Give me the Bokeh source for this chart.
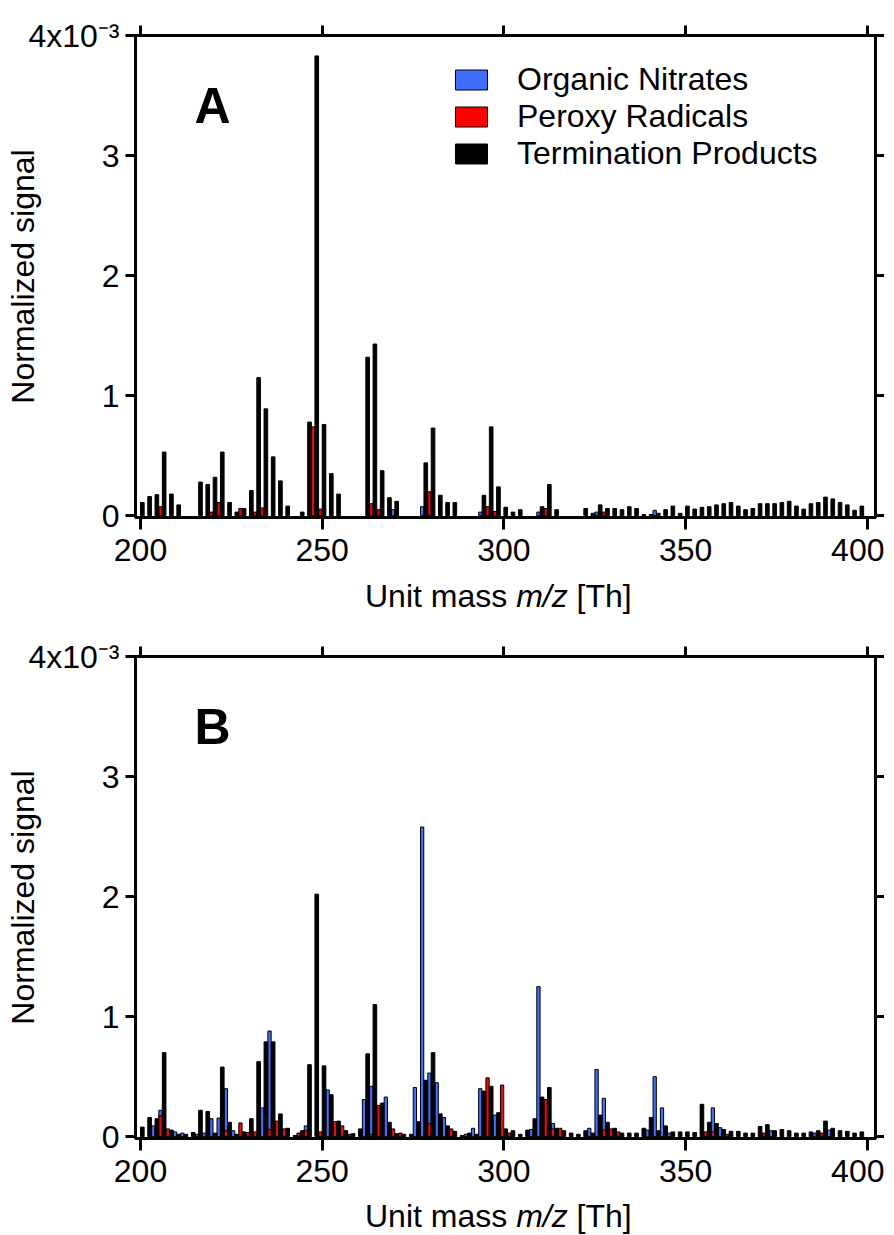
import math
from bokeh.plotting import figure
from bokeh.models import ColumnDataSource, FixedTicker, LinearAxis, Label, Range1d, Div
from bokeh.transform import dodge
from bokeh.layouts import column
from bokeh.embed import file_html
from bokeh.resources import INLINE

# ---------------- data (signal in units of 1e-3) ----------------
# Termination products at even unit masses 200, 202, ..., 398
TERM_MZ = list(range(200, 400, 2))

A_TERM = [0.11, 0.16, 0.175, 0.53, 0.18, 0.09, 0.0, 0.0, 0.28, 0.26,
          0.32, 0.53, 0.11, 0.03, 0.06, 0.21, 1.15, 0.89, 0.49, 0.29,
          0.08, 0.0, 0.03, 0.78, 3.83, 0.76, 0.35, 0.18, 0.0, 0.0,
          0.0, 1.32, 1.43, 0.375, 0.15, 0.12, 0.0, 0.0, 0.0, 0.44,
          0.73, 0.17, 0.11, 0.11, 0.0, 0.0, 0.0, 0.17, 0.74, 0.24,
          0.07, 0.03, 0.05, 0.0, 0.0, 0.075, 0.26, 0.05, 0.0, 0.0,
          0.0, 0.06, 0.02, 0.09, 0.06, 0.06, 0.05, 0.075, 0.06, 0.01,
          0.01, 0.02, 0.05, 0.08, 0.02, 0.08, 0.055, 0.07, 0.075, 0.09,
          0.10, 0.11, 0.08, 0.05, 0.06, 0.10, 0.10, 0.10, 0.11, 0.12,
          0.08, 0.055, 0.10, 0.11, 0.155, 0.14, 0.11, 0.09, 0.045, 0.08]

A_NIT_MZ = [269, 277, 293, 309, 325, 341]
A_NIT = [0.05, 0.075, 0.03, 0.03, 0.03, 0.045]

A_PER_MZ = [205, 219, 221, 227, 231, 233, 247, 249, 263, 265, 279, 295, 297, 311, 327]
A_PER = [0.075, 0.03, 0.11, 0.06, 0.03, 0.065, 0.74, 0.055, 0.10, 0.05, 0.20,
         0.075, 0.035, 0.06, 0.03]

B_TERM = [0.08, 0.16, 0.15, 0.70, 0.055, 0.02, 0.02, 0.035, 0.22, 0.21,
          0.03, 0.58, 0.12, 0.02, 0.04, 0.15, 0.625, 0.79, 0.79, 0.19,
          0.07, 0.01, 0.05, 0.60, 2.02, 0.59, 0.35, 0.13, 0.05, 0.025,
          0.065, 0.69, 1.10, 0.28, 0.12, 0.025, 0.02, 0.02, 0.125, 0.47,
          0.70, 0.19, 0.09, 0.045, 0.01, 0.03, 0.02, 0.38, 0.42, 0.20,
          0.065, 0.05, 0.02, 0.055, 0.15, 0.33, 0.41, 0.07, 0.05, 0.03,
          0.02, 0.05, 0.03, 0.18, 0.12, 0.07, 0.03, 0.03, 0.03, 0.07,
          0.16, 0.05, 0.09, 0.04, 0.04, 0.04, 0.035, 0.27, 0.12, 0.11,
          0.06, 0.045, 0.045, 0.03, 0.03, 0.085, 0.10, 0.05, 0.06, 0.05,
          0.03, 0.03, 0.04, 0.05, 0.13, 0.07, 0.05, 0.045, 0.03, 0.04]

B_NIT_MZ = [203, 205, 209, 211, 217, 219, 221, 223, 225, 233, 235, 245, 251,
            261, 263, 267, 275, 277, 279, 281, 283, 289, 291, 293, 297, 307,
            309, 313, 323, 325, 327, 339, 341, 343, 345, 357, 359, 373, 385, 389]
B_NIT = [0.09, 0.22, 0.04, 0.03, 0.03, 0.15, 0.155, 0.40, 0.05, 0.24, 0.88, 0.09, 0.39,
         0.31, 0.42, 0.33, 0.41, 2.58, 0.53, 0.45, 0.16, 0.02, 0.07, 0.40, 0.18, 0.06,
         1.25, 0.11, 0.07, 0.56, 0.32, 0.055, 0.50, 0.24, 0.03, 0.24, 0.075, 0.05, 0.03, 0.055]

B_PER_MZ = [205, 207, 215, 223, 227, 229, 231, 235, 237, 239, 243, 245, 249, 253,
            255, 257, 263, 265, 269, 271, 279, 285, 295, 299, 301, 311, 313, 315,
            327, 329, 331, 355, 357, 361, 371, 387]
B_PER = [0.175, 0.065, 0.02, 0.05, 0.115, 0.035, 0.04, 0.06, 0.13, 0.065, 0.03, 0.05,
         0.04, 0.125, 0.09, 0.02, 0.02, 0.26, 0.065, 0.03, 0.11, 0.065, 0.49, 0.43,
         0.03, 0.31, 0.065, 0.07, 0.055, 0.065, 0.04, 0.04, 0.04, 0.02, 0.03, 0.03]

X_TICKS = [200, 250, 300, 350, 400]
Y_TICKS = [0, 1, 2, 3, 4]
Y_TOP_LABEL = "4x10\u207b\u00b3"

BLUE = "#406EFF"
RED = "#FF0000"
FONT = "Liberation Sans"


def nonzero(mz, vals):
    pairs = [(m, v) for m, v in zip(mz, vals) if v > 0]
    return dict(x=[m for m, _ in pairs], top=[v for _, v in pairs])


def style_axis(ax, ticks, tick_out, show_labels, standoff=6):
    ax.ticker = FixedTicker(ticks=ticks)
    ax.axis_line_width = 3
    ax.axis_line_color = "black"
    ax.major_tick_line_width = 3
    ax.major_tick_line_color = "black"
    ax.major_tick_out = tick_out
    ax.major_tick_in = 0
    ax.minor_tick_line_color = None
    ax.major_label_text_font = FONT
    ax.major_label_text_color = "black"
    if show_labels:
        ax.major_label_text_font_size = "32px"
        ax.major_label_standoff = standoff
    else:
        ax.major_label_overrides = {t: "" for t in ticks}
        ax.major_label_text_font_size = "1px"
        ax.major_label_standoff = 0


def make_panel(term, nit_mz, nit, per_mz, per, letter, legend, border_top, border_bottom):
    p = figure(frame_width=740, frame_height=482,
               x_range=Range1d(198.62, 402.26), y_range=Range1d(-0.015, 4.0),
               min_border_left=135, min_border_right=9,
               min_border_top=border_top, min_border_bottom=border_bottom,
               output_backend="svg", toolbar_location=None)
    p.xgrid.visible = False
    p.ygrid.visible = False
    p.outline_line_color = "black"
    p.outline_line_width = 3
    p.background_fill_color = "white"
    p.border_fill_color = "white"

    xs = dodge("x", 0.5, range=p.x_range)
    kw_n = dict(legend_label="Organic Nitrates") if legend else {}
    kw_p = dict(legend_label="Peroxy Radicals") if legend else {}
    kw_t = dict(legend_label="Termination Products") if legend else {}
    p.vbar(x=xs, top="top", bottom=0, width=0.9, fill_color=BLUE, line_color="black",
           line_width=1, source=ColumnDataSource(nonzero(nit_mz, nit)), **kw_n)
    p.vbar(x=xs, top="top", bottom=0, width=0.9, fill_color=RED, line_color="black",
           line_width=1, source=ColumnDataSource(nonzero(per_mz, per)), **kw_p)
    p.vbar(x=xs, top="top", bottom=0, width=1.0, fill_color="black", line_color="black",
           line_width=1, source=ColumnDataSource(nonzero(TERM_MZ, term)), **kw_t)

    # axes
    for ax in p.xaxis:
        style_axis(ax, X_TICKS, 12, True, standoff=9)
    for ax in p.yaxis:
        style_axis(ax, Y_TICKS, 10, True, standoff=6)
        ax.major_label_overrides = {4: Y_TOP_LABEL}
        ax.axis_label = "Normalized signal"
        ax.axis_label_text_font = FONT
        ax.axis_label_text_font_size = "32px"
        ax.axis_label_text_font_style = "normal"
        ax.axis_label_text_color = "black"
        ax.axis_label_standoff = -16
    top_ax = LinearAxis()
    style_axis(top_ax, X_TICKS, 10, False)
    p.add_layout(top_ax, "above")
    right_ax = LinearAxis()
    style_axis(right_ax, Y_TICKS, 9, False)
    p.add_layout(right_ax, "right")

    p.add_layout(Label(x=219.8, y=3.41, text=letter, text_font=FONT, text_font_style="bold",
                       text_font_size="50px", text_color="black",
                       text_align="center", text_baseline="middle"))

    if legend:
        lg = p.legend[0]
        lg.location = (316, 345)
        lg.glyph_width = 40
        lg.glyph_height = 25
        lg.label_standoff = 26
        lg.label_text_font = FONT
        lg.label_text_font_size = "32px"
        lg.label_text_color = "black"
        lg.spacing = 0
        lg.padding = 0
        lg.margin = 0
        lg.border_line_color = None
        lg.background_fill_alpha = 0
    return p


def x_label(height, line_height):
    html = ('<div style="font-family:\'Liberation Sans\';font-size:32px;line-height:%dpx;'
            'padding-left:365px;padding-top:2px;color:black;white-space:nowrap;margin:0">'
            'Unit mass <i>m/z</i> [Th]</div>' % line_height)
    return Div(text=html, width=884, height=height, margin=0)


pA = make_panel(A_TERM, A_NIT_MZ, A_NIT, A_PER_MZ, A_PER, "A", True, 35, 59)
pB = make_panel(B_TERM, B_NIT_MZ, B_NIT, B_PER_MZ, B_PER, "B", False, 40, 59)

layout = column(pA, x_label(40, 37), pB, x_label(36, 34), spacing=0)
open("out.html", "w").write(file_html(layout, INLINE))
